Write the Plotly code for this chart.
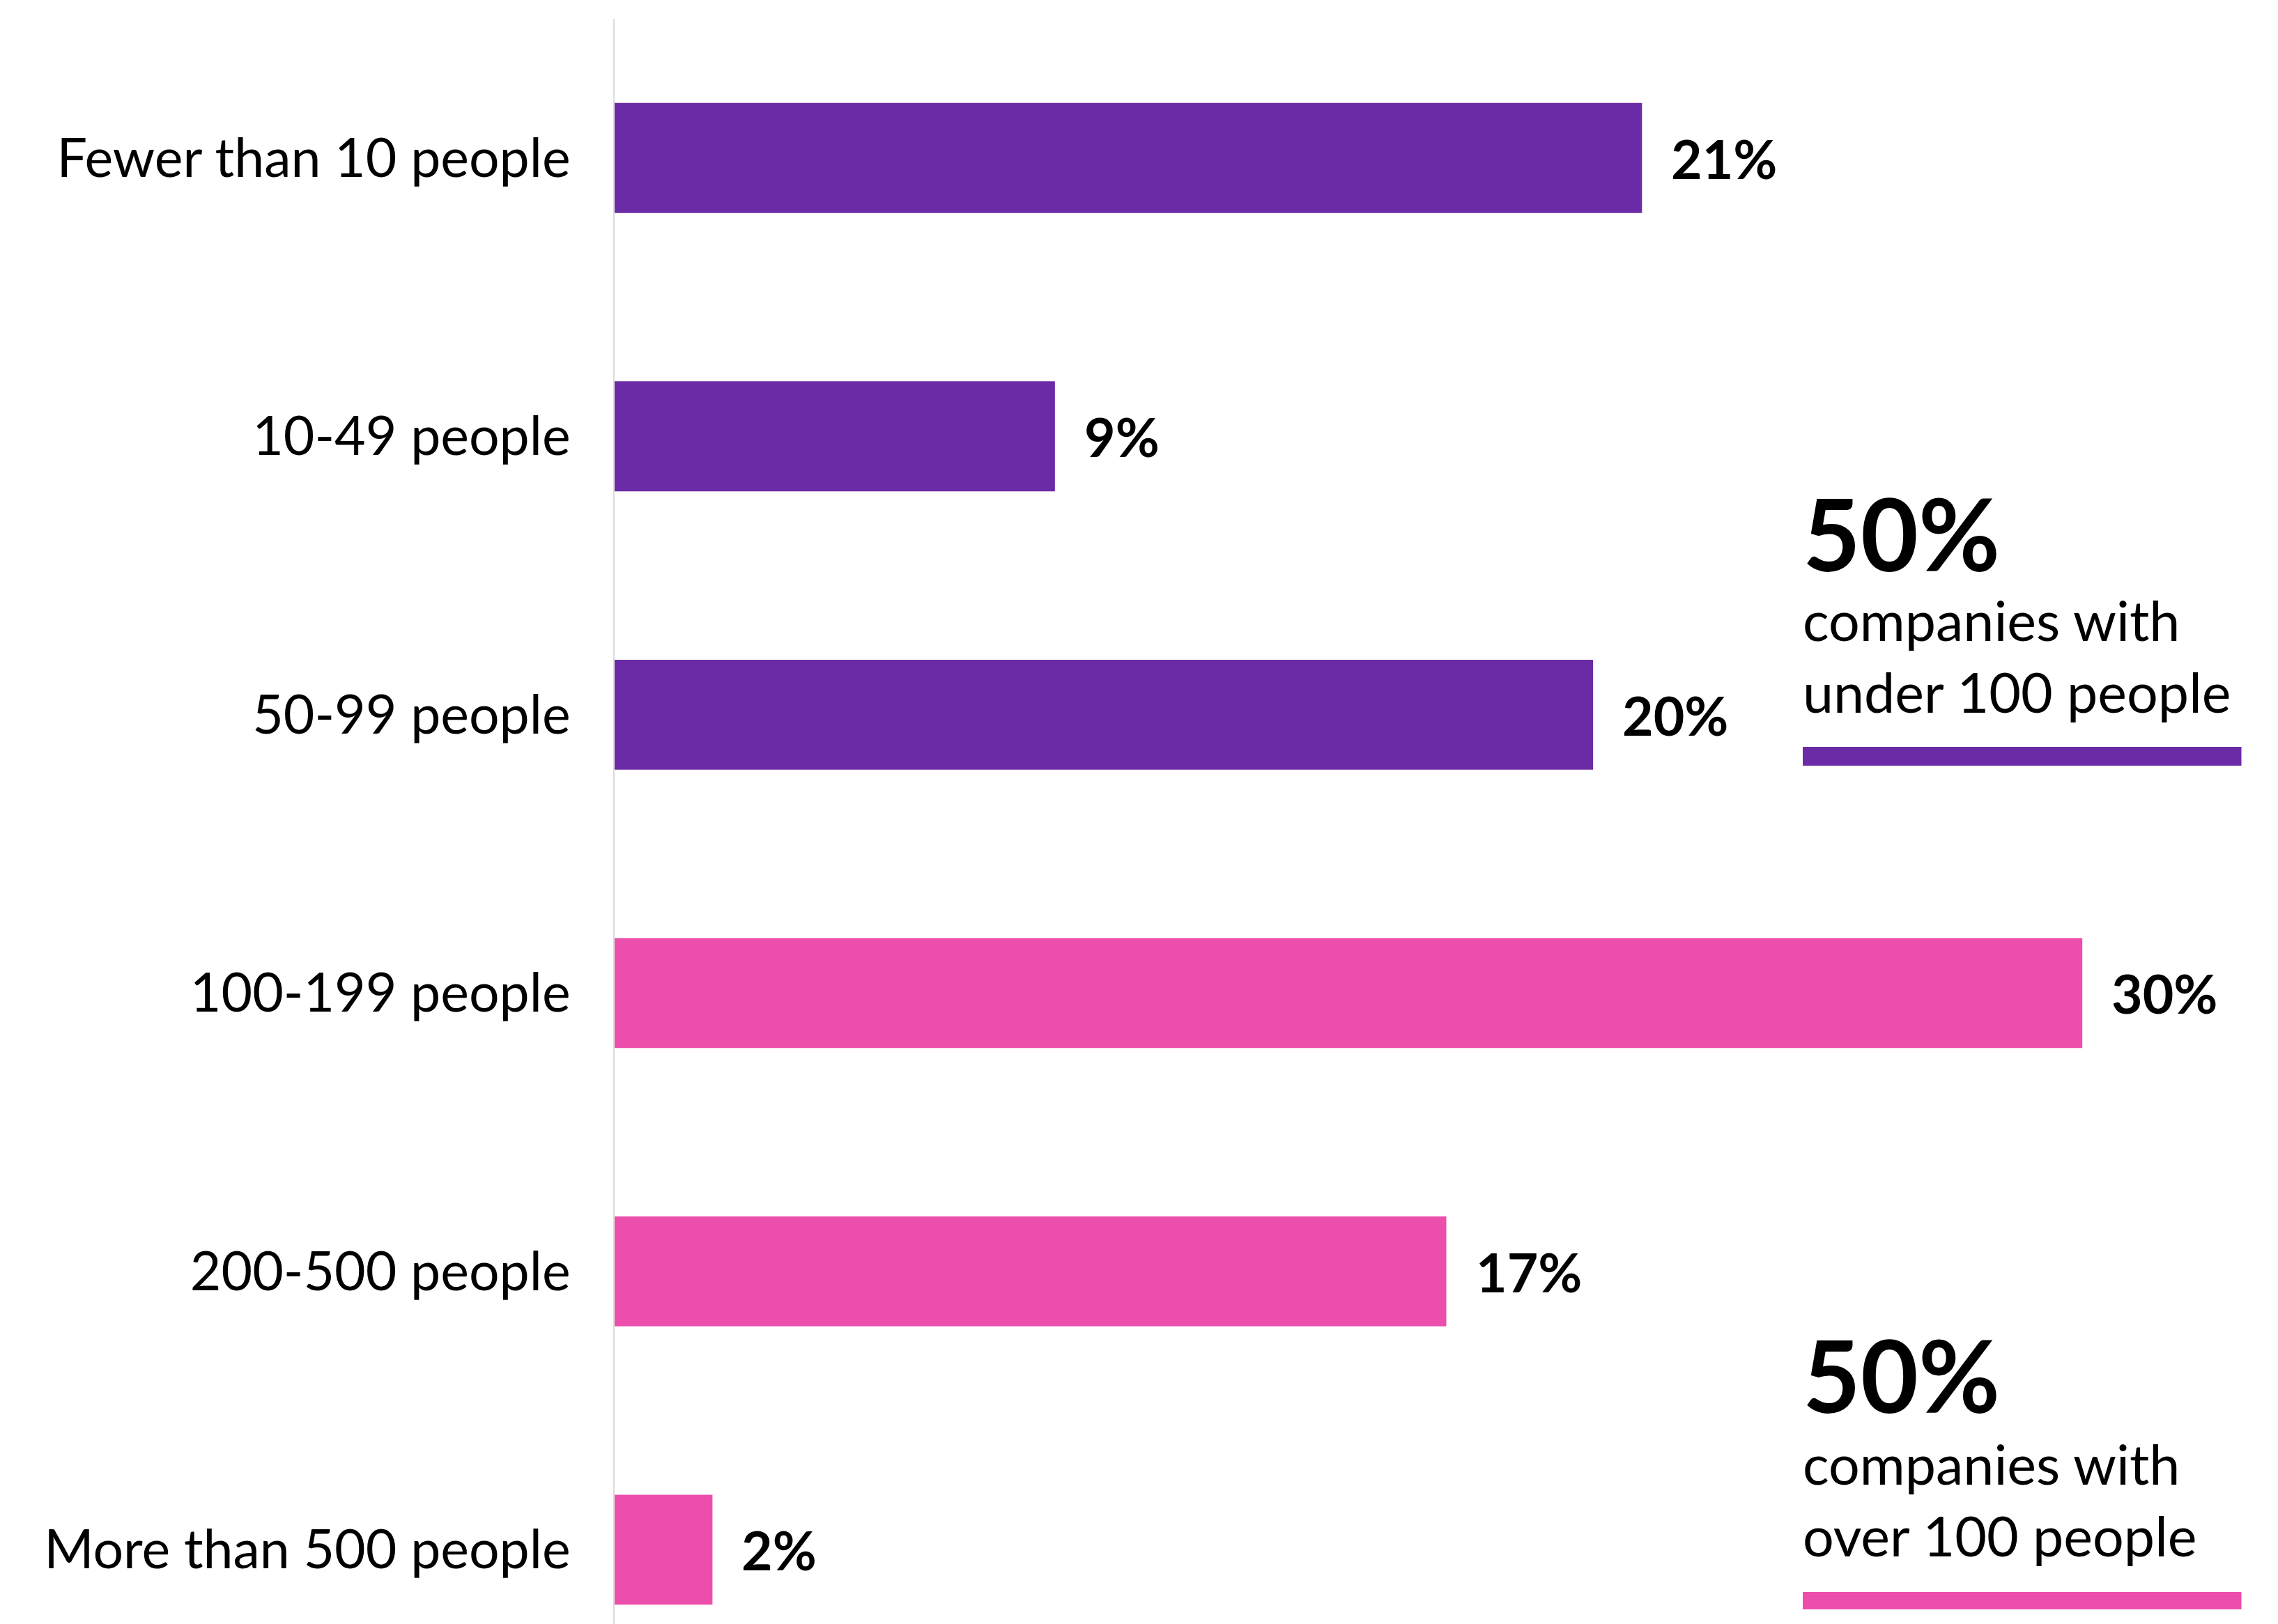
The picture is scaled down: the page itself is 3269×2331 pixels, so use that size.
import plotly.graph_objects as go

# Company size distribution (share of respondents, %)
categories = [
    "Fewer than 10 people",
    "10-49 people",
    "50-99 people",
    "100-199 people",
    "200-500 people",
    "More than 500 people",
]
shares = [21, 9, 20, 30, 17, 2]
groups = ["under", "under", "under", "over", "over", "over"]

group_colors = {"under": "#6c2ba6", "over": "#ec4fab"}
summary_under = 50
summary_over = 50

FONT = "Lato"

fig = go.Figure()
fig.add_trace(
    go.Bar(
        x=shares,
        y=categories,
        orientation="h",
        width=0.395,
        marker=dict(color=[group_colors[g] for g in groups], line=dict(width=0)),
        hoverinfo="skip",
    )
)

# value labels just past the end of each bar
for cat, val in zip(categories, shares):
    fig.add_annotation(
        x=val, y=cat, xref="x", yref="y",
        text=f"<b>{val}%</b>",
        showarrow=False, xanchor="left", yanchor="middle", xshift=40,
        font=dict(family=FONT, size=77, color="#000000"),
    )

# summary callouts on the right
callouts = [
    (summary_under, "companies with<br>under 100 people", 0.6797, 0.6033, "under", (0.5347, 0.5464)),
    (summary_over, "companies with<br>over 100 people", 0.1558, 0.0777, "over", (0.0091, 0.0200)),
]
for pct, caption, y_big, y_cap, grp, (y0, y1) in callouts:
    fig.add_annotation(
        x=0.7135, y=y_big, xref="paper", yref="paper",
        text=f"<b>{pct}%</b>", showarrow=False, xanchor="left", yanchor="middle",
        font=dict(family=FONT, size=143, color="#000000"),
    )
    fig.add_annotation(
        x=0.7135, y=y_cap, xref="paper", yref="paper",
        text=caption, showarrow=False, xanchor="left", yanchor="middle", align="left",
        font=dict(family=FONT, size=79, color="#000000"),
    )
    fig.add_shape(
        type="rect", xref="paper", yref="paper",
        x0=0.7143, x1=0.978, y0=y0, y1=y1,
        fillcolor=group_colors[grp], line=dict(width=0),
    )

fig.update_layout(
    width=3269,
    height=2331,
    margin=dict(l=882, r=0, t=27, b=0),
    paper_bgcolor="#ffffff",
    plot_bgcolor="rgba(0,0,0,0)",
    showlegend=False,
    font=dict(family=FONT, color="#000000"),
    xaxis=dict(range=[0, 34], visible=False, showgrid=False, zeroline=False),
    yaxis=dict(
        type="category",
        categoryorder="array",
        categoryarray=categories,
        range=[5.267, -0.5],
        showgrid=False,
        zeroline=False,
        showline=True,
        linecolor="#dcdcdc",
        linewidth=2,
        ticks="",
        ticklabelstandoff=46,
        tickfont=dict(family=FONT, size=77, color="#000000"),
    ),
)

fig.write_html("out.html")
